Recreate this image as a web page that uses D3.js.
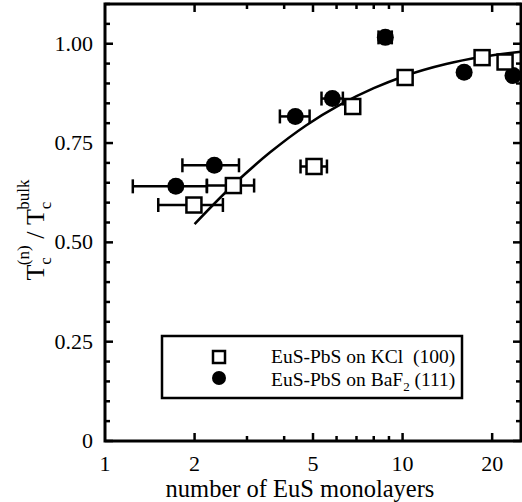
<!DOCTYPE html>
<html><head><meta charset="utf-8">
<script src="https://cdn.jsdelivr.net/npm/d3@7"></script>
<style>body{margin:0;background:#fff}svg{display:block}text{font-family:"Liberation Serif","DejaVu Serif",serif;fill:#000}</style>
</head><body><svg id="c" width="522" height="502"></svg>
<script>
// Data
const kclN    = [1.99, 2.70, 5.04, 6.8, 10.2, 18.5, 22.1];
const kclT    = [0.594, 0.643, 0.691, 0.842, 0.915, 0.965, 0.954];
const kclLo   = [1.51, 2.20, 4.54, 6.45, 10.2, 18.5, 22.1];
const kclHi   = [2.49, 3.17, 5.57, 7.1, 10.2, 18.5, 22.1];
const bafN    = [1.73, 2.33, 4.36, 5.81, 8.75, 16.1, 23.5];
const bafT    = [0.641, 0.694, 0.817, 0.862, 1.016, 0.928, 0.920];
const bafLo   = [1.24, 1.82, 3.87, 5.34, 8.3, 16.1, 23.5];
const bafHi   = [2.20, 2.82, 4.87, 6.3, 9.2, 16.1, 23.5];
const fitN    = [2.0, 2.7, 3.58, 4.75, 6.15, 8.0, 10.0, 14.0, 18.6, 25.0];
const fitT    = [0.546, 0.645, 0.726, 0.795, 0.846, 0.888, 0.917, 0.949, 0.967, 0.980];
const xTicks  = [1, 2, 5, 10, 20];
const xMinor  = [3, 4, 6, 7, 8, 9];
const yTicks  = [0, 0.25, 0.5, 0.75, 1.0];
const yTickLabels = ["0", "0.25", "0.50", "0.75", "1.00"];
const yMinor  = d3.range(0, 1.1001, 0.05).map(v => +v.toFixed(2)).filter(v => !yTicks.includes(v));
const legendLabels = ["EuS-PbS on KCl\u00a0\u00a0(100)", "EuS-PbS on BaF"];

const L = 105, R = 521, T = 4, B = 441;
const x = d3.scaleLog().domain([1, 25]).range([L, R]);
const y = d3.scaleLinear().domain([0, 1.1]).range([B, T]);
const svg = d3.select("#c");

// axes frame
svg.append("rect").attr("x", L).attr("y", T).attr("width", R - L).attr("height", B - T)
  .attr("fill", "none").attr("stroke", "#000").attr("stroke-width", 3);

const tk = svg.append("g").attr("stroke", "#000").attr("stroke-width", 2.5);
xTicks.slice(1).forEach(v => {
  tk.append("line").attr("x1", x(v)).attr("x2", x(v)).attr("y1", B).attr("y2", B - 8);
  tk.append("line").attr("x1", x(v)).attr("x2", x(v)).attr("y1", T).attr("y2", T + 8);
});
xMinor.forEach(v => {
  tk.append("line").attr("x1", x(v)).attr("x2", x(v)).attr("y1", B).attr("y2", B - 5);
  tk.append("line").attr("x1", x(v)).attr("x2", x(v)).attr("y1", T).attr("y2", T + 5);
});
yTicks.forEach(v => {
  tk.append("line").attr("x1", L).attr("x2", L + 8).attr("y1", y(v)).attr("y2", y(v));
  tk.append("line").attr("x1", R).attr("x2", R - 8).attr("y1", y(v)).attr("y2", y(v));
});
yMinor.forEach(v => {
  tk.append("line").attr("x1", L).attr("x2", L + 5).attr("y1", y(v)).attr("y2", y(v));
  tk.append("line").attr("x1", R).attr("x2", R - 5).attr("y1", y(v)).attr("y2", y(v));
});

// tick labels
xTicks.forEach(v => {
  svg.append("text").attr("x", x(v)).attr("y", B + 30).attr("text-anchor", "middle")
    .attr("font-size", 22).text(v);
});
yTicks.forEach((v, i) => {
  svg.append("text").attr("x", L - 12).attr("y", y(v) + 7).attr("text-anchor", "end")
    .attr("font-size", 22).text(yTickLabels[i]);
});

// x title
svg.append("text").attr("x", 300).attr("y", 497).attr("text-anchor", "middle")
  .attr("font-size", 24.5).text("number of EuS monolayers");

// y title
const yt = svg.append("text").attr("transform", "translate(44,230) rotate(-90)")
  .attr("text-anchor", "middle").attr("font-size", 26);
yt.append("tspan").text("T");
yt.append("tspan").attr("font-size", 17).attr("dy", 7).text("c");
yt.append("tspan").attr("font-size", 17).attr("dx", -8).attr("dy", -22).text("(n)");
yt.append("tspan").attr("dy", 15).text("\u00a0/\u00a0");
yt.append("tspan").text("T");
yt.append("tspan").attr("font-size", 17).attr("dy", 7).text("c");
yt.append("tspan").attr("font-size", 17).attr("dx", -8).attr("dy", -22).text("bulk");

// fit curve
const line = d3.line().x(d => x(d[0])).y(d => y(d[1])).curve(d3.curveMonotoneX);
svg.append("path").datum(fitN.map((n, i) => [n, fitT[i]]))
  .attr("d", line).attr("fill", "none").attr("stroke", "#000").attr("stroke-width", 2.5);

// error bars
function errBars(ns, ts, lo, hi) {
  const g = svg.append("g").attr("stroke", "#000").attr("stroke-width", 2.5);
  ns.forEach((n, i) => {
    if (hi[i] - lo[i] < 1e-6) return;
    const yy = y(ts[i]);
    g.append("line").attr("x1", x(lo[i])).attr("x2", x(hi[i])).attr("y1", yy).attr("y2", yy);
    g.append("line").attr("x1", x(lo[i])).attr("x2", x(lo[i])).attr("y1", yy - 7).attr("y2", yy + 7);
    g.append("line").attr("x1", x(hi[i])).attr("x2", x(hi[i])).attr("y1", yy - 7).attr("y2", yy + 7);
  });
}
errBars(bafN, bafT, bafLo, bafHi);
errBars(kclN, kclT, kclLo, kclHi);

// markers
svg.append("g").selectAll("circle").data(bafN).join("circle")
  .attr("cx", d => x(d)).attr("cy", (d, i) => y(bafT[i])).attr("r", 8.5).attr("fill", "#000");
svg.append("g").selectAll("rect").data(kclN).join("rect")
  .attr("x", d => x(d) - 7.5).attr("y", (d, i) => y(kclT[i]) - 7.5).attr("width", 15).attr("height", 15)
  .attr("fill", "#fff").attr("stroke", "#000").attr("stroke-width", 2.5);

// legend
svg.append("rect").attr("x", 162).attr("y", 336).attr("width", 300).attr("height", 62)
  .attr("fill", "#fff").attr("stroke", "#000").attr("stroke-width", 2.5);
svg.append("rect").attr("x", 213).attr("y", 351).attr("width", 12).attr("height", 12)
  .attr("fill", "#fff").attr("stroke", "#000").attr("stroke-width", 2.5);
svg.append("circle").attr("cx", 219).attr("cy", 378).attr("r", 7).attr("fill", "#000");
svg.append("text").attr("x", 271).attr("y", 363).attr("font-size", 19.5).text(legendLabels[0]);
const l2 = svg.append("text").attr("x", 271).attr("y", 386).attr("font-size", 19.5);
l2.append("tspan").text(legendLabels[1]);
l2.append("tspan").attr("font-size", 13).attr("dy", 5).text("2");
l2.append("tspan").attr("dy", -5).text("\u00a0(111)");
</script></body></html>
